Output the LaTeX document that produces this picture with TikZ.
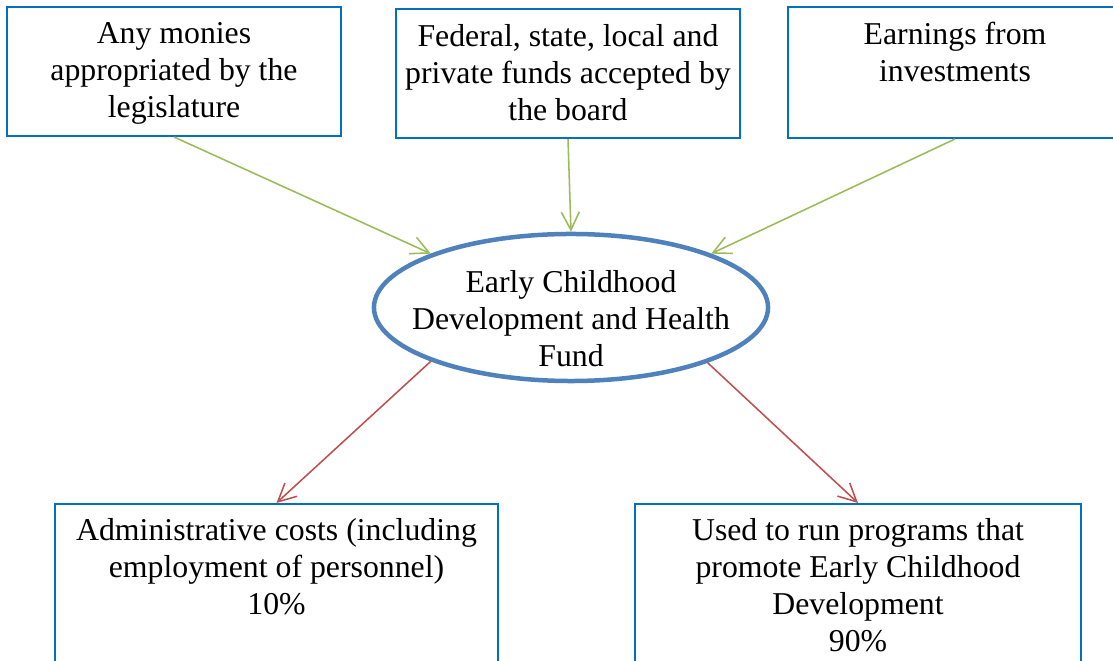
\documentclass[tikz,border=0pt]{standalone}
\usepackage{fontspec}
\setmainfont{Liberation Serif}
\usetikzlibrary{arrows.meta,shapes.geometric}

\definecolor{boxblue}{RGB}{0,112,192}
\definecolor{fundblue}{RGB}{79,129,189}
\definecolor{ingreen}{RGB}{155,187,89}
\definecolor{outred}{RGB}{192,80,77}

\begin{document}
\begin{tikzpicture}[x=0.025cm, y=-0.025cm,
  box/.style={draw=boxblue, line width=1.4pt, inner sep=0pt},
  txt/.style={font=\fontsize{22.6}{26.3}\selectfont, align=center, inner sep=0pt, anchor=north},
  fundshape/.style={ellipse, draw=fundblue, line width=3.2pt, inner sep=0pt,
    minimum width=9.85cm, minimum height=3.675cm},
  inarrow/.style={draw=ingreen, line width=1.1pt, -{Straight Barb[length=4.5mm,width=4.5mm]}},
  outarrow/.style={draw=outred, line width=1.1pt, -{Straight Barb[length=4.5mm,width=4.5mm]}}]
  \clip (0,0) rectangle (1113,661);

  % Sources of money
  \node[box, minimum width=8.35cm, minimum height=3.225cm] (src1) at (174,71.5) {};
  \node[txt] (src1txt) at ([yshift=-0.4cm]src1.north) {Any monies\\appropriated by the\\legislature};
  \node[box, minimum width=8.6cm, minimum height=3.225cm] (src2) at (568,73.5) {};
  \node[txt] (src2txt) at ([yshift=-0.4cm]src2.north) {Federal, state, local and\\private funds accepted by\\the board};
  \node[box, minimum width=8.35cm, minimum height=3.275cm] (src3) at (955,72.5) {};
  \node[txt] (src3txt) at ([yshift=-0.4cm]src3.north) {Earnings from\\investments};

  % The fund
  \node[fundshape] (fund) at (571,307.5) {};
  \node[txt] (fundtxt) at (571,270) {Early Childhood\\Development and Health\\Fund};

  % Uses of money
  \node[box, minimum width=11.075cm, minimum height=5.4cm] (admin) at (276.5,612) {};
  \node[txt] (admintxt) at ([yshift=-0.375cm]admin.north) {Administrative costs (including\\employment of personnel)\\10\%};
  \node[box, minimum width=11.15cm, minimum height=5.4cm] (prog) at (858,612) {};
  \node[txt] (progtxt) at ([yshift=-0.375cm]prog.north) {Used to run programs that\\promote Early Childhood\\Development\\90\%};

  % Drawing
  \draw[inarrow] (src1.south) -- (fund.159);
  \draw[inarrow] (src2.south) -- (fund.north);
  \draw[inarrow] (src3.south) -- (fund.21);
  \draw[outarrow] (fund.201) -- (admin.north);
  \draw[outarrow] (fund.338) -- (prog.north);
\end{tikzpicture}
\end{document}
